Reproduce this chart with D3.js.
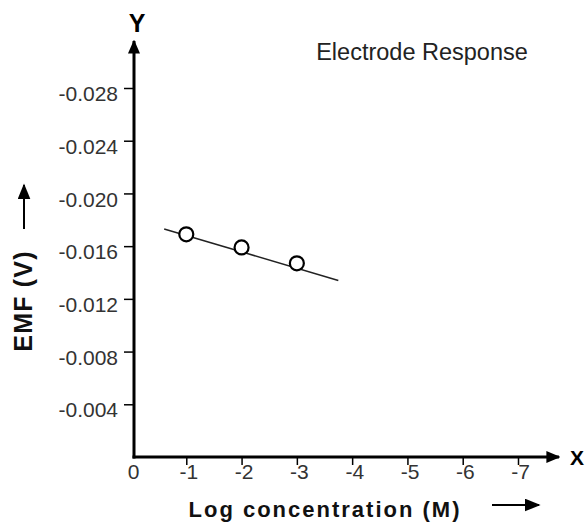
<!DOCTYPE html>
<html>
<head>
<meta charset="utf-8">
<script src="https://cdn.jsdelivr.net/npm/d3@7"></script>
<style>
  body { margin: 0; background: #fff; }
  text { font-family: "Liberation Sans", Arial, sans-serif; }
</style>
</head>
<body>
<div class="chart"></div>
<script>
// log concentration (M) and measured EMF (V)
const logConc = [-1, -2, -3];
const emf = [-0.0169, -0.0159, -0.0147];
// fitted line ends
const fitX = [-0.6, -3.75];
const fitY = [-0.0173, -0.0134];
const xTicks = [0, -1, -2, -3, -4, -5, -6, -7];
const yTicks = [-0.004, -0.008, -0.012, -0.016, -0.020, -0.024, -0.028];

const w = 586;
const h = 529;
const originX = 131;
const originY = 457;

const x = d3.scaleLinear().domain([0, -7]).range([originX, 518]);
const y = d3.scaleLinear().domain([0, -0.028]).range([originY, 88]);

const svg = d3.select(".chart")
    .append("svg")
    .attr("width", w)
    .attr("height", h);

const defs = svg.append("defs");
const addMarker = (id, mw, mh) => defs.append("marker")
    .attr("id", id)
    .attr("viewBox", "0 0 10 10")
    .attr("refX", 9).attr("refY", 5)
    .attr("markerWidth", mw).attr("markerHeight", mh)
    .attr("markerUnits", "userSpaceOnUse")
    .attr("orient", "auto")
    .attr("preserveAspectRatio", "none")
    .append("path")
    .attr("d", "M0,0 L10,5 L0,10 z")
    .attr("fill", "#000");
addMarker("arr", 14, 12);
addMarker("arrS", 16, 13);

const fmtY = d => d3.format(".3f")(d).replace("\u2212", "-");

// y axis
const yAxis = svg.append("g")
    .attr("transform", `translate(${originX + 3},0)`)
    .call(d3.axisLeft(y).tickValues(yTicks).tickSize(10).tickPadding(6)
        .tickFormat(fmtY));
yAxis.select(".domain").remove();
yAxis.selectAll("line").attr("stroke-width", 1.5);
yAxis.selectAll("text")
    .attr("font-size", 21).attr("fill", "#333").attr("dy", "0.6em")
    .style("font-family", "Liberation Sans, Arial, sans-serif");

// x axis
const xAxis = svg.append("g")
    .attr("transform", `translate(0,${originY})`)
    .call(d3.axisBottom(x).tickValues(xTicks).tickSize(8).tickPadding(-1)
        .tickFormat(d => String(d)));
xAxis.select(".domain").remove();
xAxis.selectAll("line").attr("stroke-width", 1.5);
xAxis.selectAll(".tick").filter(d => d === 0).select("line").remove();
xAxis.selectAll("text")
    .attr("font-size", 21).attr("fill", "#333").attr("dx", "0.1em")
    .style("font-family", "Liberation Sans, Arial, sans-serif");

// axis lines with arrows
svg.append("line")
    .attr("x1", originX + 3).attr("y1", originY + 1.5)
    .attr("x2", originX + 3).attr("y2", 41)
    .attr("stroke", "#000").attr("stroke-width", 3)
    .attr("marker-end", "url(#arr)");
svg.append("line")
    .attr("x1", originX + 1.5).attr("y1", originY)
    .attr("x2", 559).attr("y2", originY)
    .attr("stroke", "#000").attr("stroke-width", 3)
    .attr("marker-end", "url(#arr)");

svg.append("text").attr("x", originX + 6).attr("y", 32)
    .attr("text-anchor", "middle").attr("font-size", 25).attr("font-weight", "bold")
    .text("Y");
svg.append("text").attr("x", 577).attr("y", 465)
    .attr("text-anchor", "middle").attr("font-size", 21).attr("font-weight", "bold")
    .text("X");

// fitted line
svg.append("line")
    .attr("x1", x(fitX[0])).attr("y1", y(fitY[0]))
    .attr("x2", x(fitX[1])).attr("y2", y(fitY[1]))
    .attr("stroke", "#222").attr("stroke-width", 1.5);

// points
svg.selectAll("circle.pt")
    .data(logConc)
    .enter()
    .append("circle")
    .attr("class", "pt")
    .attr("cx", d => x(d))
    .attr("cy", (d, i) => y(emf[i]))
    .attr("r", 7)
    .attr("fill", "#fff")
    .attr("stroke", "#000")
    .attr("stroke-width", 2.2);

// title
svg.append("text").attr("x", 422).attr("y", 60)
    .attr("text-anchor", "middle").attr("font-size", 23.5).attr("fill", "#222")
    .text("Electrode Response");

// x title
svg.append("text").attr("x", 325).attr("y", 517)
    .attr("text-anchor", "middle").attr("font-size", 22).attr("font-weight", "bold")
    .attr("letter-spacing", 2).attr("fill", "#111")
    .text("Log concentration (M)");
svg.append("line")
    .attr("x1", 492).attr("y1", 505).attr("x2", 539).attr("y2", 505)
    .attr("stroke", "#000").attr("stroke-width", 2)
    .attr("marker-end", "url(#arrS)");

// y title
svg.append("text")
    .attr("transform", "translate(32,301) rotate(-90)")
    .attr("text-anchor", "middle").attr("font-size", 25).attr("font-weight", "bold")
    .attr("letter-spacing", 1.2).attr("fill", "#111")
    .text("EMF (V)");
svg.append("line")
    .attr("x1", 24).attr("y1", 229).attr("x2", 24).attr("y2", 185)
    .attr("stroke", "#000").attr("stroke-width", 2)
    .attr("marker-end", "url(#arrS)");
</script>
</body>
</html>
